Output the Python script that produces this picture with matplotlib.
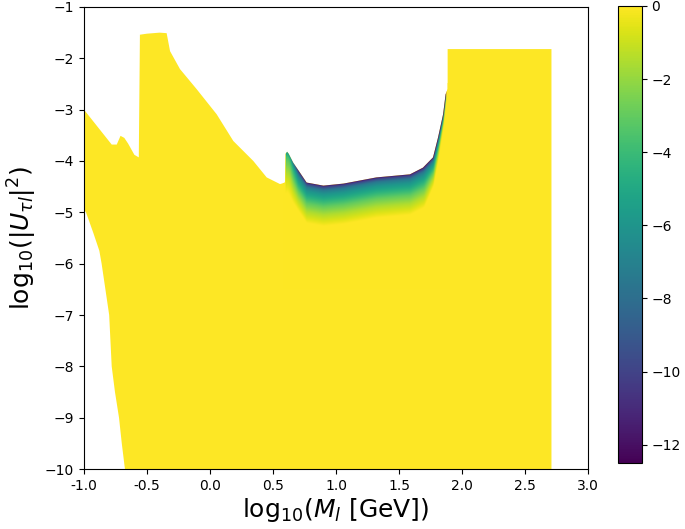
import numpy as np
import matplotlib
matplotlib.use("Agg")
import matplotlib.pyplot as plt
from matplotlib.patches import Polygon

# upper edge of the allowed region (log10 M, log10 |U|^2)
upper_x = np.array([-1.0, -0.78, -0.74, -0.71, -0.68, -0.65, -0.60, -0.565, -0.556,
                    -0.50, -0.40, -0.344, -0.317, -0.238, -0.106, 0.053, 0.185, 0.344,
                    0.45, 0.556, 0.595, 0.600, 0.612, 0.625, 0.66, 0.767, 0.90, 1.06,
                    1.32, 1.587, 1.69, 1.77, 1.81, 1.85, 1.87, 1.886, 1.886, 2.71])
upper_y = np.array([-3.0, -3.68, -3.68, -3.51, -3.55, -3.66, -3.88, -3.93, -1.54,
                    -1.52, -1.50, -1.51, -1.86, -2.21, -2.60, -3.09, -3.61, -4.0,
                    -4.32, -4.45, -4.42, -3.86, -3.82, -3.86, -4.03, -4.42, -4.48, -4.44,
                    -4.32, -4.26, -4.13, -3.93, -3.54, -3.09, -2.70, -2.60, -1.82, -1.82])

# lower-left edge, from the bottom axis up to x = -1
lower_x = np.array([2.71, -0.675, -0.70, -0.722, -0.754, -0.78, -0.80, -0.83, -0.86,
                    -0.878, -0.926, -0.984, -1.0])
lower_y = np.array([-10.0, -10.0, -9.5, -9.0, -8.5, -8.0, -7.0, -6.5, -6.0,
                    -5.75, -5.40, -5.00, -4.95])

# colour value vs depth below the dip edge
depth_tab = np.array([0.0, 0.04, 0.10, 0.18, 0.30, 0.42, 0.58, 0.80])
value_tab = np.array([-12.5, -10.0, -7.5, -6.0, -4.5, -3.0, -1.5, 0.0])
# band thickness and edge strength along x
thick_x = np.array([0.60, 1.70, 1.80, 1.87])
thick_v = np.array([1.0, 1.0, 0.6, 0.2])
edge_x = np.array([0.60, 0.635, 0.70, 1.87])
edge_v = np.array([0.5, 0.5, 1.0, 1.0])

cmap = plt.get_cmap("viridis")
vmin, vmax = -12.5, 0.0

fig = plt.figure(figsize=(6.85, 5.29), dpi=100)
ax = fig.add_axes([0.1226, 0.1134, 0.7358, 0.8734])
cax = fig.add_axes([0.902, 0.1248, 0.035, 0.8639])

verts = np.column_stack([np.concatenate([upper_x, lower_x]),
                         np.concatenate([upper_y, lower_y])])
region = Polygon(verts, closed=True, facecolor=cmap(1.0), edgecolor="none", zorder=1)
ax.add_patch(region)

# gradient field under the dip
sel = (upper_x >= 0.60) & (upper_x <= 1.87)
dip_x, dip_y = upper_x[sel], upper_y[sel]
gx = np.linspace(0.58, 1.90, 700)
gy = np.linspace(-6.5, -2.5, 700)
X, Y = np.meshgrid(gx, gy)
yb = np.interp(X, dip_x, dip_y)
th = np.interp(X, thick_x, thick_v)
Z = np.interp((yb - Y) / th, depth_tab, value_tab) * np.interp(X, edge_x, edge_v)
Z[(X < 0.60) | (X > 1.87)] = 0.0
im = ax.imshow(Z, origin="lower", extent=[gx[0], gx[-1], gy[0], gy[-1]],
               cmap=cmap, vmin=vmin, vmax=vmax, aspect="auto",
               interpolation="bilinear", zorder=2)
im.set_clip_path(region)

ax.set_xlim(-1.0, 3.0)
ax.set_ylim(-10, -1)
ax.set_xticks(np.arange(-1.0, 3.01, 0.5))
ax.set_xticklabels(["%.1f" % t for t in np.arange(-1.0, 3.01, 0.5)])
ax.tick_params(labelsize=10)
ax.set_xlabel(r"$\mathrm{log}_{10}(M_l\ [\mathrm{GeV}])$", fontsize=18, labelpad=2)
ax.set_ylabel(r"$\mathrm{log}_{10}(|U_{\tau l}|^2)$", fontsize=18, labelpad=4)

cb = fig.colorbar(im, cax=cax, ticks=[0, -2, -4, -6, -8, -10, -12])
cb.ax.tick_params(labelsize=10)

fig.savefig("out.png", dpi=100)
